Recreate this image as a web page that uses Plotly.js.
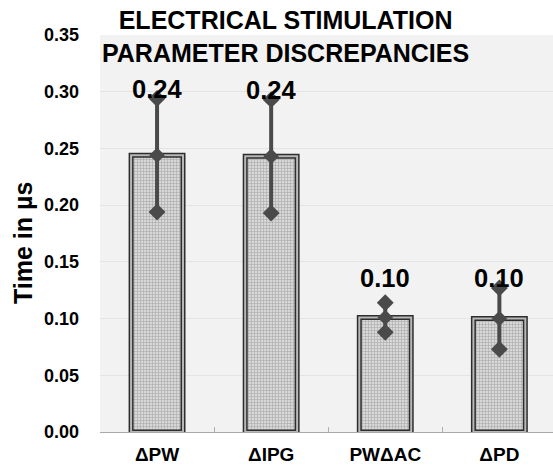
<!DOCTYPE html>
<html><head><meta charset="utf-8">
<script src="https://cdn.plot.ly/plotly-3.0.1.min.js"></script>
<style>html,body{margin:0;padding:0;background:#fff}#c{width:553px;height:466px}</style>
</head><body><div id="c"></div>
<script>
const categories = ['ΔPW', 'ΔIPG', 'PWΔAC', 'ΔPD'];
const values = [0.244, 0.243, 0.101, 0.100];
const errors = [0.050, 0.050, 0.013, 0.027];
const labels = ['0.24', '0.24', '0.10', '0.10'];
const yTicks = [0, 0.05, 0.10, 0.15, 0.20, 0.25, 0.30, 0.35];
const titleText = 'ELECTRICAL STIMULATION<br>PARAMETER DISCREPANCIES';
const yTitleText = 'Time in µs';

const FONT = 'Liberation Sans, Arial, sans-serif';
const dark = '#4a4a4a';

const barMain = {
  type: 'bar', x: categories, y: values, width: 0.455,
  marker: {color: '#cfcfcf', line: {color: '#2e2e2e', width: 5},
    pattern: {shape: '+', size: 3, solidity: 0.35, fgcolor: '#a8a8a8', bgcolor: '#d8d8d8', fillmode: 'replace'}},
  hoverinfo: 'skip', showlegend: false
};
const barRing = {
  type: 'bar', x: categories, y: values, width: 0.455,
  marker: {color: 'rgba(0,0,0,0)', line: {color: '#b8b8b8', width: 2}},
  hoverinfo: 'skip', showlegend: false
};
const errTrace = {
  type: 'scatter', mode: 'markers', x: categories, y: values,
  error_y: {type: 'data', array: errors, visible: true, thickness: 4, width: 0, color: dark},
  marker: {symbol: 'diamond', size: 12, color: dark},
  hoverinfo: 'skip', showlegend: false
};
const endX = categories.concat(categories);
const endY = values.map((v, i) => v + errors[i]).concat(values.map((v, i) => v - errors[i]));
const endTrace = {
  type: 'scatter', mode: 'markers', x: endX, y: endY,
  marker: {symbol: 'diamond', size: 13, color: dark},
  hoverinfo: 'skip', showlegend: false
};

const annotations = categories.map((c, i) => ({
  x: c, y: Math.max(values[i] + errors[i], values[i] + 0.026), xref: 'x', yref: 'y',
  text: '<b>' + labels[i] + '</b>', showarrow: false, yanchor: 'bottom', yshift: -6,
  font: {family: FONT, size: 25.5, color: '#000'}
}));
annotations.push({
  text: '<b>' + titleText + '</b>', xref: 'paper', yref: 'paper',
  x: 0.41, y: 1.078, xanchor: 'center', yanchor: 'top', showarrow: false,
  font: {family: FONT, size: 25, color: '#000'}
});
annotations.push({
  text: '<b>' + yTitleText + '</b>', xref: 'paper', yref: 'paper', textangle: -90,
  x: -0.17, y: 0.476, xanchor: 'center', yanchor: 'middle', showarrow: false,
  font: {family: FONT, size: 25, color: '#000'}
});

const layout = {
  width: 553, height: 466,
  margin: {l: 100, r: 0, t: 35, b: 34},
  paper_bgcolor: '#ffffff', plot_bgcolor: '#f2f2f2',
  barmode: 'overlay',
  font: {family: FONT, color: '#000'},
  xaxis: {
    type: 'category', range: [-0.5, 3.47],
    tickson: 'boundaries', ticks: 'inside', ticklen: 5, tickcolor: '#b0b0b0',
    showline: true, linecolor: '#a8a8a8', linewidth: 1,
    showgrid: false, ticklabelstandoff: 5,
    tickfont: {family: FONT, size: 19, color: '#000', weight: 'bold'}
  },
  yaxis: {
    range: [0, 0.35], tickvals: yTicks, tickformat: '.2f',
    showgrid: true, gridcolor: '#e4e4e4', gridwidth: 1,
    zeroline: false, showline: false, ticks: '',
    ticklabelstandoff: 20,
    tickfont: {family: FONT, size: 18, color: '#000', weight: 'bold'}
  },
  annotations: annotations
};

Plotly.newPlot('c', [barMain, barRing, errTrace, endTrace], layout, {staticPlot: true, displayModeBar: false});
</script></body></html>
